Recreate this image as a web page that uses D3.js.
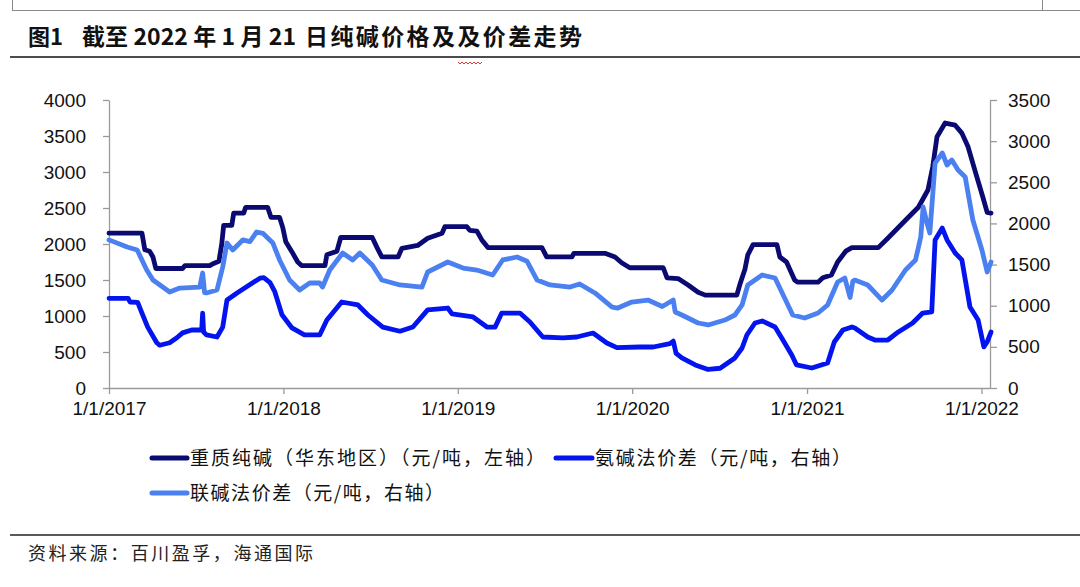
<!DOCTYPE html>
<html><head><meta charset="utf-8">
<script src="https://cdn.jsdelivr.net/npm/d3@7/dist/d3.min.js"></script>
<style>
html,body{margin:0;padding:0;background:#fff;}
svg{display:block;}
</style></head>
<body>
<svg id="chart" width="1080" height="587"></svg>
<script>
// ---------------- data ----------------
const titleHead = "截至 2022 年 1 月 21";
const titleTail = "日纯碱价格及及价差走势";
const seriesNames = ["重质纯碱（华东地区）（元/吨，左轴）", "氨碱法价差（元/吨，右轴）", "联碱法价差（元/吨，右轴）"];
const leftTicks = [0, 500, 1000, 1500, 2000, 2500, 3000, 3500, 4000];
const rightTicks = [0, 500, 1000, 1500, 2000, 2500, 3000, 3500];
const xTickDates = ["2017-01-01", "2018-01-01", "2019-01-01", "2020-01-01", "2021-01-01", "2022-01-01"];
const xDomain = ["2017-01-01", "2022-01-21"];

// 重质纯碱（华东地区） left axis
const sodaAshPrice = [
["2017-01-01",2150],["2017-03-11",2150],["2017-03-17",1920],["2017-03-27",1900],["2017-04-03",1820],
["2017-04-09",1660],["2017-06-04",1660],["2017-06-09",1700],["2017-07-31",1700],["2017-08-08",1730],
["2017-08-19",1760],["2017-08-25",2000],["2017-08-29",2260],["2017-09-15",2260],["2017-09-19",2430],
["2017-10-10",2430],["2017-10-14",2510],["2017-11-29",2510],["2017-12-06",2370],["2017-12-24",2370],
["2017-12-31",2220],["2018-01-06",2030],["2018-01-19",1890],["2018-01-31",1750],["2018-02-08",1700],
["2018-03-29",1700],["2018-04-02",1850],["2018-04-23",1900],["2018-05-01",2090],["2018-07-06",2090],
["2018-07-16",1950],["2018-07-26",1820],["2018-08-29",1820],["2018-09-06",1940],["2018-10-09",1980],
["2018-10-30",2080],["2018-11-29",2150],["2018-12-05",2240],["2019-01-20",2240],["2019-01-26",2190],
["2019-02-10",2180],["2019-02-20",2060],["2019-03-05",1950],["2019-06-26",1950],["2019-07-06",1820],
["2019-08-28",1820],["2019-09-01",1870],["2019-11-05",1870],["2019-11-26",1820],["2019-12-10",1740],
["2019-12-27",1670],["2020-03-06",1670],["2020-03-14",1530],["2020-04-06",1520],["2020-04-27",1430],
["2020-05-18",1330],["2020-06-02",1290],["2020-08-07",1290],["2020-08-13",1430],["2020-08-24",1650],
["2020-08-30",1850],["2020-09-10",1990],["2020-10-30",1990],["2020-11-05",1820],["2020-11-19",1750],
["2020-12-06",1500],["2020-12-12",1470],["2021-01-24",1470],["2021-02-03",1530],["2021-02-21",1570],
["2021-03-06",1750],["2021-03-23",1900],["2021-04-05",1950],["2021-05-30",1950],["2021-06-19",2080],
["2021-07-26",2330],["2021-08-22",2510],["2021-09-11",2750],["2021-09-21",3070],["2021-09-30",3490],
["2021-10-17",3680],["2021-11-07",3650],["2021-11-21",3540],["2021-12-04",3350],["2021-12-18",3030],
["2022-01-04",2650],["2022-01-13",2440],["2022-01-21",2430]
];

// 氨碱法价差 right axis
const ammoniaSodaSpread = [
["2017-01-01",1090],["2017-02-10",1090],["2017-02-14",1045],["2017-03-02",1040],["2017-03-11",910],
["2017-03-23",740],["2017-04-11",550],["2017-04-17",520],["2017-05-08",550],["2017-05-23",610],
["2017-06-04",670],["2017-06-23",705],["2017-07-14",705],["2017-07-16",910],["2017-07-18",680],
["2017-07-24",645],["2017-08-15",620],["2017-08-27",740],["2017-09-05",1070],["2017-09-26",1155],
["2017-10-16",1230],["2017-11-13",1335],["2017-11-21",1340],["2017-12-04",1280],["2017-12-14",1170],
["2017-12-29",890],["2018-01-19",730],["2018-02-14",645],["2018-03-18",645],["2018-04-02",826],
["2018-05-03",1045],["2018-06-06",1009],["2018-06-27",887],["2018-07-28",740],["2018-09-02",690],
["2018-09-29",741],["2018-10-30",950],["2018-12-11",972],["2018-12-20",900],["2019-02-02",863],
["2019-03-03",741],["2019-03-20",740],["2019-04-03",911],["2019-05-11",911],["2019-06-01",802],
["2019-06-28",620],["2019-08-09",608],["2019-09-07",620],["2019-10-11",668],["2019-11-09",547],
["2019-11-30",490],["2020-01-17",498],["2020-02-14",498],["2020-03-20",540],["2020-03-27",570],
["2020-04-02",420],["2020-04-14",365],["2020-05-12",280],["2020-06-08",225],["2020-07-03",240],
["2020-08-03",365],["2020-08-18",486],["2020-08-28",644],["2020-09-14",790],["2020-09-29",814],
["2020-10-26",741],["2020-11-09",608],["2020-11-30",401],["2020-12-10",280],["2021-01-11",243],
["2021-02-13",304],["2021-02-27",559],["2021-03-17",705],["2021-04-05",741],["2021-04-11",729],
["2021-05-08",620],["2021-05-23",583],["2021-06-19",583],["2021-07-11",681],["2021-08-10",790],
["2021-08-31",911],["2021-09-19",924],["2021-09-26",1800],["2021-10-11",1944],["2021-10-21",1799],
["2021-11-07",1641],["2021-11-21",1556],["2021-12-08",984],["2021-12-25",826],["2022-01-06",500],
["2022-01-13",560],["2022-01-21",680]
];

// 联碱法价差 right axis
const jointSodaSpread = [
["2017-01-01",1800],["2017-02-08",1714],["2017-03-01",1677],["2017-03-21",1434],["2017-04-03",1312],
["2017-05-08",1167],["2017-05-29",1215],["2017-07-10",1227],["2017-07-16",1397],["2017-07-20",1160],
["2017-07-24",1155],["2017-08-15",1191],["2017-08-27",1470],["2017-09-05",1762],["2017-09-17",1677],
["2017-10-08",1799],["2017-10-23",1780],["2017-11-06",1896],["2017-11-19",1880],["2017-12-10",1762],
["2017-12-24",1556],["2018-01-14",1312],["2018-02-04",1191],["2018-02-25",1276],["2018-03-18",1276],
["2018-03-24",1227],["2018-04-08",1434],["2018-05-05",1641],["2018-05-26",1556],["2018-06-10",1641],
["2018-07-06",1495],["2018-07-26",1312],["2018-09-02",1252],["2018-10-18",1227],["2018-10-30",1410],
["2018-12-11",1531],["2019-01-12",1458],["2019-02-10",1434],["2019-03-15",1373],["2019-04-05",1556],
["2019-05-05",1592],["2019-05-26",1540],["2019-06-16",1312],["2019-07-13",1252],["2019-08-24",1227],
["2019-09-13",1264],["2019-10-15",1155],["2019-11-20",984],["2019-12-02",972],["2019-12-31",1045],
["2020-02-03",1069],["2020-03-04",990],["2020-03-27",1069],["2020-03-31",924],["2020-04-14",887],
["2020-05-18",790],["2020-06-08",766],["2020-07-13",826],["2020-08-03",887],["2020-08-18",1009],
["2020-08-30",1252],["2020-09-29",1373],["2020-10-26",1337],["2020-11-15",1094],["2020-12-02",887],
["2020-12-27",851],["2021-01-24",911],["2021-02-13",1009],["2021-03-06",1288],["2021-03-21",1337],
["2021-04-01",1100],["2021-04-07",1300],["2021-04-11",1312],["2021-05-08",1252],["2021-06-07",1069],
["2021-06-28",1191],["2021-07-26",1434],["2021-08-16",1556],["2021-08-27",1835],["2021-09-01",2200],
["2021-09-09",2005],["2021-09-15",1884],["2021-09-26",2734],["2021-10-11",2856],["2021-10-21",2710],
["2021-10-31",2771],["2021-11-13",2649],["2021-11-28",2564],["2021-12-14",2042],["2022-01-02",1677],
["2022-01-13",1410],["2022-01-21",1531]
];

const seriesColors = ["#0a0a72", "#0414ee", "#4a80f0"];

// ---------------- layout ----------------
const svg = d3.select("#chart");
const plot = {left: 109, right: 990, top: 100, bottom: 388};
const parse = d3.timeParse("%Y-%m-%d");

const x = d3.scaleTime().domain(xDomain.map(parse)).range([plot.left, plot.right + 1]);
const yL = d3.scaleLinear().domain([0, 4000]).range([plot.bottom, plot.top]);
const yR = d3.scaleLinear().domain([0, 3500]).range([plot.bottom, plot.top]);

// page decorations
svg.append("line").attr("x1", 12).attr("x2", 1080).attr("y1", 10.5).attr("y2", 10.5).attr("stroke", "#8a8a8a").attr("stroke-width", 1);
svg.append("line").attr("x1", 12.5).attr("x2", 12.5).attr("y1", 0).attr("y2", 10).attr("stroke", "#8a8a8a");
svg.append("line").attr("x1", 1042.5).attr("x2", 1042.5).attr("y1", 0).attr("y2", 10).attr("stroke", "#8a8a8a");
svg.append("line").attr("x1", 10).attr("x2", 1080).attr("y1", 57).attr("y2", 57).attr("stroke", "#111").attr("stroke-width", 1.6);
svg.append("line").attr("x1", 10).attr("x2", 1080).attr("y1", 535).attr("y2", 535).attr("stroke", "#222").attr("stroke-width", 1.4);

// title
const cjk = "'Noto Sans CJK SC', 'Noto Sans', sans-serif";
svg.append("text").attr("x", 28).attr("y", 45).attr("font-family", cjk).attr("font-weight", "bold")
  .attr("font-size", 22).attr("fill", "#111").text("图1");
const tt = svg.append("text").attr("y", 45).attr("font-family", cjk).attr("font-weight", "bold")
  .attr("font-size", 23).attr("fill", "#111");
tt.append("tspan").attr("x", 82).attr("textLength", 214).attr("lengthAdjust", "spacing").text(titleHead);
tt.append("tspan").attr("x", 305).attr("textLength", 277).attr("lengthAdjust", "spacing").text(titleTail);
// spell-check squiggle under second 及
(function(){
  let p = "M458,62";
  for (let i = 0; i < 12; i++) p += " l2," + (i % 2 ? -2 : 2);
  svg.append("path").attr("d", p).attr("fill", "none").attr("stroke", "#d22").attr("stroke-width", 0.9);
})();

// axes
const axisColor = "#9a9a9a";
const labelFont = "'Liberation Sans', Arial, sans-serif";
function styleAxis(g) {
  g.selectAll("path, line").attr("stroke", axisColor).attr("stroke-width", 1.3);
  g.selectAll("text").attr("font-family", labelFont).attr("font-size", 19).attr("fill", "#111");
}
const gL = svg.append("g").attr("transform", `translate(${plot.left},0)`)
  .call(d3.axisLeft(yL).tickValues(leftTicks).tickSize(6).tickSizeOuter(0).tickPadding(17).tickFormat(d3.format("d")));
styleAxis(gL);
const gR = svg.append("g").attr("transform", `translate(${plot.right},0)`)
  .call(d3.axisRight(yR).tickValues(rightTicks).tickSize(7).tickSizeOuter(0).tickPadding(11).tickFormat(d3.format("d")));
styleAxis(gR);
const gX = svg.append("g").attr("transform", `translate(0,${plot.bottom})`)
  .call(d3.axisBottom(x).tickValues(xTickDates.map(parse)).tickSize(6).tickSizeOuter(0).tickPadding(8)
  .tickFormat(d3.timeFormat("%-m/%-d/%Y")));
styleAxis(gX);
gX.select(".domain").attr("d", `M${plot.left},0.5H${plot.right}`);

// lines
const mkLine = (ys) => d3.line().x(d => x(parse(d[0]))).y(d => ys(d[1])).curve(d3.curveLinear);
const seriesData = [sodaAshPrice, ammoniaSodaSpread, jointSodaSpread];
const seriesScales = [yL, yR, yR];
seriesData.forEach((data, i) => {
  svg.append("path").datum(data).attr("d", mkLine(seriesScales[i]))
    .attr("fill", "none").attr("stroke", seriesColors[i]).attr("stroke-width", 4.8)
    .attr("stroke-linejoin", "round").attr("stroke-linecap", "round");
});

// legend
const legendItems = [
  {i: 0, x1: 152, x2: 187, y: 458, tx: 190, tl: 355},
  {i: 1, x1: 556, x2: 592, y: 458, tx: 595, tl: 256},
  {i: 2, x1: 152, x2: 187, y: 493, tx: 190, tl: 254}
];
legendItems.forEach(it => {
  svg.append("line").attr("x1", it.x1).attr("x2", it.x2).attr("y1", it.y).attr("y2", it.y)
    .attr("stroke", seriesColors[it.i]).attr("stroke-width", 5).attr("stroke-linecap", "round");
  svg.append("text").attr("x", it.tx).attr("y", it.y + 7).attr("font-family", cjk).attr("font-size", 19)
    .attr("fill", "#111").attr("textLength", it.tl).attr("lengthAdjust", "spacing").text(seriesNames[it.i]);
});

// source
svg.append("text").attr("x", 28).attr("y", 560).attr("font-family", cjk).attr("font-size", 18)
  .attr("fill", "#222").attr("textLength", 285).attr("lengthAdjust", "spacing").text("资料来源：百川盈孚，海通国际");
</script>
</body></html>
